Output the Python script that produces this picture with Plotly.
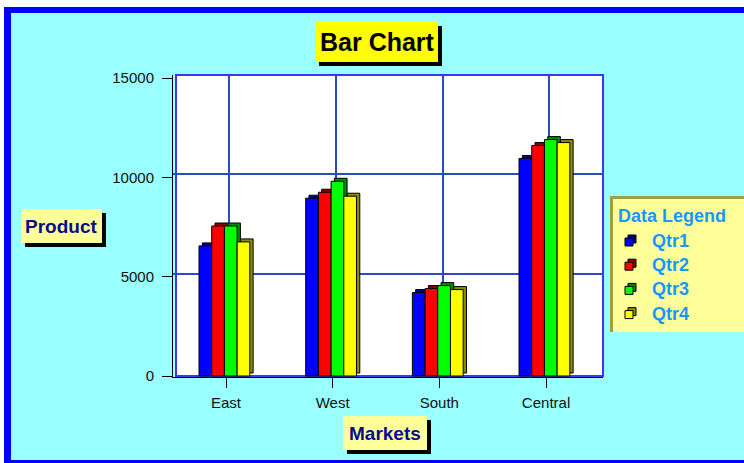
import plotly.graph_objects as go

# ---------------- data ----------------
markets = ["East", "West", "South", "Central"]
quarters = ["Qtr1", "Qtr2", "Qtr3", "Qtr4"]
qtr1 = [6550, 8950, 4200, 10950]
qtr2 = [7550, 9250, 4400, 11600]
qtr3 = [7550, 9800, 4550, 11900]
qtr4 = [6750, 9050, 4350, 11750]
y_ticks = [0, 5000, 10000, 15000]
y_tick_labels = ["0", "5000", "10000", "15000"]
chart_title = "Bar Chart"
x_title = "Markets"
y_title = "Product"
legend_title = "Data Legend"

series = [qtr1, qtr2, qtr3, qtr4]
front_colors = ["#0000ff", "#ff0000", "#00ff00", "#ffff00"]
side_colors = ["#00008c", "#8c0000", "#008c00", "#8c8c00"]

# ---------------- geometry helpers ----------------
W, H = 744, 463
PL, PR, PT, PB = 173, 603, 75, 377   # plot domain in pixels
PW, PH = PR - PL, PB - PT

def X(px):
    return (px - PL) / PW

def Y(py):
    return (PB - py) / PH

x_range = [-0.497, 3.534]
units_per_px_x = (x_range[1] - x_range[0]) / PW
y_range = [-50, 15151]
units_per_px_y = (y_range[1] - y_range[0]) / PH

depth_dx = 3.3 * units_per_px_x
depth_dy = 3.0 * units_per_px_y
bar_w = 12.7 * units_per_px_x
group_start = -27 * units_per_px_x

xs = list(range(len(markets)))

fig = go.Figure()
for q, (name, vals) in enumerate(zip(quarters, series)):
    off = group_start + q * bar_w
    fig.add_trace(go.Bar(
        x=xs, y=vals, base=[depth_dy] * len(vals), offset=off + depth_dx, width=bar_w,
        marker=dict(color=side_colors[q], line=dict(color="black", width=1)),
        showlegend=False, hoverinfo="skip"))
    fig.add_trace(go.Bar(
        x=xs, y=vals, offset=off, width=bar_w, name=name,
        marker=dict(color=front_colors[q], line=dict(color="black", width=1)),
        showlegend=False))

# invisible trace to activate the back-plane grid axes
fig.add_trace(go.Scatter(x=[0], y=[0], xaxis="x2", yaxis="y2", mode="markers",
                         marker=dict(opacity=0), hoverinfo="skip", showlegend=False))

FONT = "Liberation Sans, Arial, sans-serif"
grid_color = "#2a4cc0"

shapes = []
# outer frame
shapes.append(dict(type="rect", xref="paper", yref="paper", x0=X(4), x1=X(800), y0=Y(7), y1=Y(500),
                   fillcolor="#0000ff", line=dict(width=0), layer="below"))
shapes.append(dict(type="rect", xref="paper", yref="paper", x0=X(11), x1=X(800), y0=Y(13), y1=Y(460),
                   fillcolor="#99ffff", line=dict(width=0), layer="below"))
# back plane (plot wall)
shapes.append(dict(type="rect", xref="paper", yref="paper", x0=X(176), x1=X(603), y0=Y(376), y1=Y(75),
                   fillcolor="white", line=dict(color="#3838ff", width=2), layer="below"))

def box(x0, y0, x1, y1, fill, shadow=4):
    shapes.append(dict(type="rect", xref="paper", yref="paper", x0=X(x0 + shadow), x1=X(x1 + shadow),
                       y0=Y(y1 + shadow), y1=Y(y0 + shadow), fillcolor="black", line=dict(width=0)))
    shapes.append(dict(type="rect", xref="paper", yref="paper", x0=X(x0), x1=X(x1),
                       y0=Y(y1), y1=Y(y0), fillcolor=fill, line=dict(width=0)))

box(315, 22, 438, 62, "#ffff00")
box(21, 209, 102, 243, "#ffff99")
box(343, 416, 427, 450, "#ffff99")

# legend box
shapes.append(dict(type="rect", xref="paper", yref="paper", x0=X(610), x1=X(800), y0=Y(332), y1=Y(196),
                   fillcolor="#ffff99", line=dict(width=0)))
shapes.append(dict(type="rect", xref="paper", yref="paper", x0=X(610), x1=X(613), y0=Y(332), y1=Y(196),
                   fillcolor="#a0a040", line=dict(width=0)))
shapes.append(dict(type="rect", xref="paper", yref="paper", x0=X(610), x1=X(800), y0=Y(199), y1=Y(196),
                   fillcolor="#a0a040", line=dict(width=0)))

annotations = [
    dict(text=chart_title, x=X(377.5), y=Y(42), xref="paper", yref="paper", showarrow=False,
         font=dict(family=FONT, size=25, color="black", weight="bold"), xanchor="center", yanchor="middle"),
    dict(text=y_title, x=X(61.5), y=Y(226), xref="paper", yref="paper", showarrow=False,
         font=dict(family=FONT, size=19, color="#0a0a8c", weight="bold"), xanchor="center", yanchor="middle"),
    dict(text=x_title, x=X(385), y=Y(433), xref="paper", yref="paper", showarrow=False,
         font=dict(family=FONT, size=19, color="#0a0a8c", weight="bold"), xanchor="center", yanchor="middle"),
    dict(text=legend_title, x=X(616), y=Y(216), xref="paper", yref="paper", showarrow=False,
         font=dict(family=FONT, size=18, color="#1a96ff", weight="bold"), xanchor="left", yanchor="middle"),
]
for q, name in enumerate(quarters):
    cy = 241 + 24.2 * q
    shapes.append(dict(type="rect", xref="paper", yref="paper", x0=X(628), x1=X(636), y0=Y(cy + 2), y1=Y(cy - 6),
                       fillcolor=side_colors[q], line=dict(color="black", width=1)))
    shapes.append(dict(type="rect", xref="paper", yref="paper", x0=X(625), x1=X(633), y0=Y(cy + 5), y1=Y(cy - 3),
                       fillcolor=front_colors[q], line=dict(color="black", width=1)))
    annotations.append(dict(text=name, x=X(650), y=Y(cy), xref="paper", yref="paper", showarrow=False,
                            font=dict(family=FONT, size=18, color="#1a96ff", weight="bold"),
                            xanchor="left", yanchor="middle"))

fig.update_layout(
    width=W, height=H, autosize=False,
    margin=dict(l=PL, r=W - PR, t=PT, b=H - PB, pad=0),
    paper_bgcolor="white", plot_bgcolor="rgba(0,0,0,0)",
    barmode="overlay", showlegend=False,
    font=dict(family=FONT, color="black"),
    xaxis=dict(range=x_range, tickvals=xs, ticktext=markets, ticks="outside", ticklen=10,
               tickcolor="black", showline=True, linecolor="black", linewidth=1,
               showgrid=False, zeroline=False, tickfont=dict(size=15, color="#111"),
               ticklabelstandoff=2),
    yaxis=dict(range=y_range, tickvals=y_ticks, ticktext=y_tick_labels, ticks="outside", ticklen=10,
               tickcolor="black", showline=True, linecolor="black", linewidth=1,
               showgrid=False, zeroline=False, tickfont=dict(size=15, color="#111"),
               ticklabelstandoff=5),
    xaxis2=dict(overlaying="x", anchor="y2", range=[x_range[0] - depth_dx, x_range[1] - depth_dx],
                tickvals=xs, showticklabels=False, ticks="", showgrid=True, gridcolor=grid_color,
                gridwidth=1.5, zeroline=False, showline=False),
    yaxis2=dict(overlaying="y", anchor="x2", range=[y_range[0] - depth_dy, y_range[1] - depth_dy],
                tickvals=y_ticks[1:-1], showticklabels=False, ticks="", showgrid=True, gridcolor=grid_color,
                gridwidth=1.5, zeroline=False, showline=False),
    shapes=shapes, annotations=annotations,
)

fig.write_html("out.html", config={"displayModeBar": False},
               post_script="document.body.style.margin='0';document.body.style.overflow='hidden';")
